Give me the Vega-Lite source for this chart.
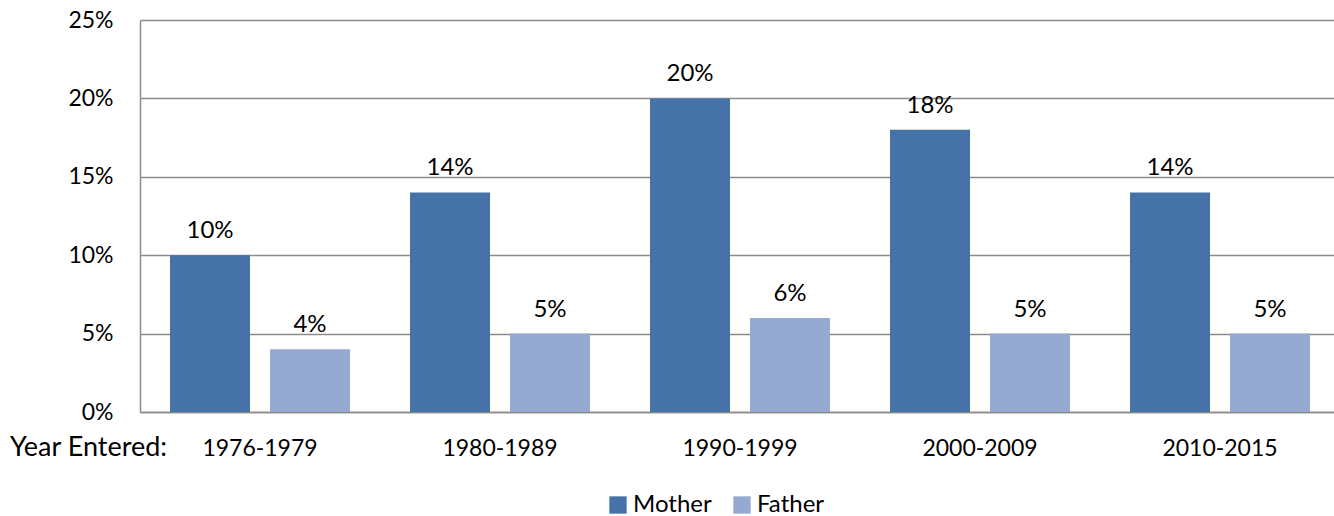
{
  "$schema": "https://vega.github.io/schema/vega-lite/v6.json",
  "width": 1194,
  "height": 392,
  "autosize": {"type": "none"},
  "padding": {"left": 140, "top": 20, "right": 0, "bottom": 104},
  "background": "white",
  "config": {
    "view": {"stroke": null},
    "font": "Lato",
    "text": {"font": "Lato"}
  },
  "data": {
    "values": [
      {"period": "1976-1979", "parent": "Mother", "pct": 0.10},
      {"period": "1976-1979", "parent": "Father", "pct": 0.04},
      {"period": "1980-1989", "parent": "Mother", "pct": 0.14},
      {"period": "1980-1989", "parent": "Father", "pct": 0.05},
      {"period": "1990-1999", "parent": "Mother", "pct": 0.20},
      {"period": "1990-1999", "parent": "Father", "pct": 0.06},
      {"period": "2000-2009", "parent": "Mother", "pct": 0.18},
      {"period": "2000-2009", "parent": "Father", "pct": 0.05},
      {"period": "2010-2015", "parent": "Mother", "pct": 0.14},
      {"period": "2010-2015", "parent": "Father", "pct": 0.05}
    ]
  },
  "encoding": {
    "x": {
      "field": "period",
      "type": "nominal",
      "sort": null,
      "scale": {"range": [0, 1200], "paddingInner": 0, "paddingOuter": 0},
      "axis": {
        "title": "Year Entered:",
        "titleFont": "Lato",
        "titleFontSize": 27,
        "titleFontWeight": "normal",
        "titleColor": "#000000",
        "titleX": -52,
        "titleY": 43,
        "titleAlign": "center",
        "titleBaseline": "alphabetic",
        "titleAnchor": null,
        "labelFont": "Lato",
        "labelFontSize": 23,
        "labelColor": "#000000",
        "labelAngle": 0,
        "labelBaseline": "alphabetic",
        "labelPadding": 43,
        "ticks": false,
        "tickSize": 0,
        "domainColor": "#8c8c8c",
        "domainWidth": 1.5,
        "grid": false
      }
    },
    "xOffset": {
      "field": "parent",
      "type": "nominal",
      "sort": ["Mother", "Father"],
      "scale": {"paddingInner": 0.2, "paddingOuter": 0.3}
    },
    "y": {
      "field": "pct",
      "type": "quantitative",
      "scale": {"domain": [0, 0.25], "nice": false},
      "axis": {
        "title": null,
        "format": ".0%",
        "values": [0, 0.05, 0.1, 0.15, 0.2, 0.25],
        "labelFont": "Lato",
        "labelFontSize": 23,
        "labelColor": "#000000",
        "labelPadding": 27,
        "ticks": false,
        "tickSize": 0,
        "domainColor": "#8c8c8c",
        "domainWidth": 1.5,
        "grid": true,
        "gridColor": "#8c8c8c",
        "gridWidth": 1.5
      }
    }
  },
  "layer": [
    {
      "mark": {"type": "bar"},
      "encoding": {
        "color": {
          "field": "parent",
          "type": "nominal",
          "sort": ["Mother", "Father"],
          "scale": {"domain": ["Mother", "Father"], "range": ["#4572A7", "#95A9D1"]},
          "legend": {
            "title": null,
            "orient": "none",
            "direction": "horizontal",
            "legendX": 466,
            "legendY": 473,
            "padding": 0,
            "symbolType": "square",
            "symbolSize": 300,
            "symbolStrokeWidth": 0,
            "labelFont": "Lato",
            "labelFontSize": 24,
            "labelColor": "#000000",
            "labelOffset": 3,
            "columnPadding": 18
          }
        }
      }
    },
    {
      "mark": {"type": "text", "baseline": "alphabetic", "dy": -17, "fontSize": 24, "font": "Lato", "color": "#000000"},
      "encoding": {
        "text": {"field": "pct", "type": "quantitative", "format": ".0%"}
      }
    }
  ]
}
